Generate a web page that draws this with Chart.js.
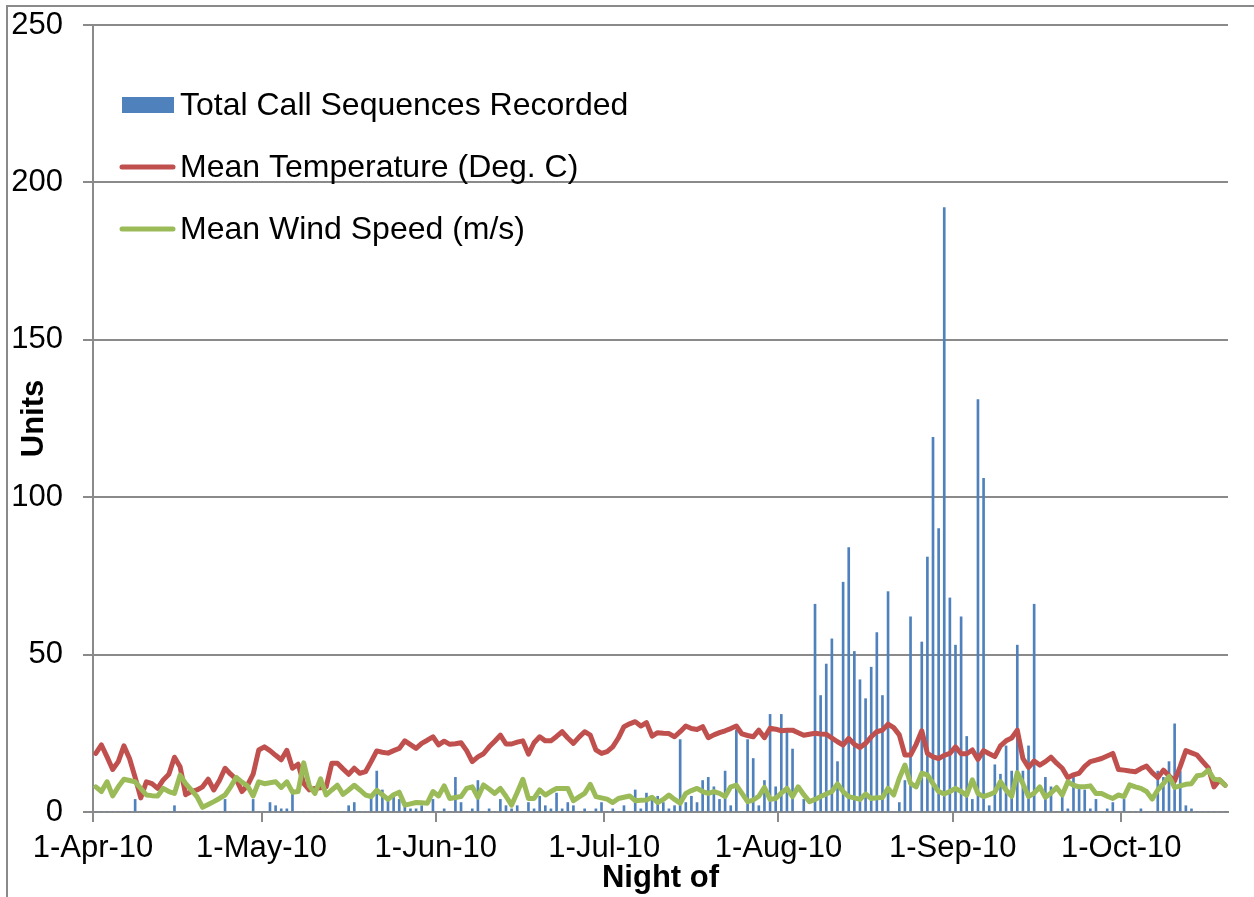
<!DOCTYPE html>
<html lang="en">
<head>
    <meta charset="UTF-8">
    <title>Call Sequences, Temperature and Wind Speed</title>
    <script src="https://cdn.jsdelivr.net/npm/chart.js"></script>
    <style>
        body { margin: 0; background: #fff; }
        canvas { display: block; }
    </style>
</head>
<body>
    <canvas id="nightChart" width="1254" height="897"></canvas>

    <script>
        // one value per night, 1-Apr-10 .. 20-Oct-10
        const firstNight = new Date(2010, 3, 1);
        const nightCount = 202;
        const monthTicks = ['1-Apr-10', '1-May-10', '1-Jun-10', '1-Jul-10', '1-Aug-10', '1-Sep-10', '1-Oct-10'];
        const yTicks = [0, 50, 100, 150, 200, 250];

        const callSequences = [
            0, 0, 0, 0, 0, 0, 0, 4, 0, 0,
            0, 0, 0, 0, 2, 0, 0, 0, 0, 0,
            0, 0, 0, 4, 0, 0, 0, 0, 4, 0,
            0, 3, 2, 1, 1, 6, 0, 0, 0, 0,
            0, 0, 0, 0, 0, 2, 3, 0, 0, 5,
            13, 7, 4, 5, 4, 3, 1, 1, 2, 0,
            4, 0, 1, 0, 11, 3, 0, 1, 10, 0,
            1, 0, 4, 2, 1, 2, 0, 3, 1, 5,
            2, 1, 6, 1, 3, 2, 0, 1, 0, 1,
            3, 0, 1, 0, 2, 0, 7, 1, 6, 5,
            5, 3, 1, 2, 23, 3, 5, 3, 10, 11,
            8, 4, 13, 2, 26, 0, 23, 17, 2, 10,
            31, 8, 31, 26, 20, 0, 4, 0, 66, 37,
            47, 55, 16, 73, 84, 51, 42, 36, 46, 57,
            37, 70, 0, 3, 10, 62, 0, 54, 81, 119,
            90, 192, 68, 53, 62, 24, 4, 131, 106, 2,
            15, 12, 21, 13, 53, 13, 21, 66, 0, 11,
            8, 0, 5, 1, 11, 8, 7, 1, 4, 0,
            1, 3, 0, 4, 0, 0, 1, 0, 0, 13,
            11, 16, 28, 13, 2, 1, 0, 0, 0, 0,
            0, 0
        ];

        const meanTemperature = [
            18.6, 21.3, 17.5, 13.5, 16, 21, 17, 11, 4.5, 9.6,
            9, 7.5, 10.2, 12, 17.4, 14.4, 5.5, 6.5, 7, 8,
            10.4, 7, 10, 13.9, 12, 10.4, 6.5, 8.5, 12, 19.7,
            20.7, 19.5, 18, 16.6, 19.6, 13.9, 15.2, 9.1, 7, 7.5,
            7.7, 8, 15.5, 15.5, 13.7, 12, 13.9, 12.3, 12.8, 16,
            19.4, 19, 18.7, 19.5, 20.2, 22.6, 21.4, 20.2, 21.8, 22.8,
            23.9, 21.3, 22.5, 21.5, 21.7, 22, 19.5, 16, 17.5, 18.5,
            20.7, 22.5, 24.4, 21.6, 21.6, 22.2, 22.6, 18.4, 22, 23.9,
            22.6, 22.6, 24, 25.5, 23.5, 21.8, 23.8, 25.5, 24.4, 19.7,
            18.6, 19.2, 20.7, 23.5, 27.1, 28, 28.7, 27.3, 28.4, 24.1,
            25.2, 25, 24.9, 23.9, 25.5, 27.3, 26.5, 26.2, 27.1, 23.6,
            24.5, 25.2, 25.8, 26.5, 27.3, 24.8, 24.3, 23.9, 26, 23.6,
            26.6, 26.3, 25.8, 26, 26, 25.2, 24.4, 24.7, 25, 24.8,
            24.7, 23.5, 22.3, 21.3, 23.4, 21.5, 20.5, 21.8, 23.9, 25.5,
            26, 27.9, 26.8, 24.5, 18.1, 18.1, 21.5, 25.8, 18.6, 17.5,
            17, 18, 18.6, 20.7, 18.5, 18.5, 19.7, 16.7, 19.5, 18.5,
            17.6, 21, 22.6, 23.5, 26, 17, 14.2, 16.2, 14.9, 16,
            17.4, 15.5, 13.9, 10.9, 11.8, 12.3, 14.5, 16, 16.5, 17,
            17.8, 18.6, 13.5, 13.3, 13, 12.8, 13.8, 14.6, 12.5, 10.9,
            13.3, 11.5, 9.9, 14.5, 19.5, 18.8, 18.1, 16, 14, 8,
            10.2, 8.5
        ];

        const meanWindSpeed = [
            8, 6.5, 9.6, 5.1, 8, 10.4, 10, 9.6, 7.5, 5.4,
            5.2, 5.1, 7.5, 6.5, 5.9, 11.7, 9, 7, 4.9, 1.5,
            2.4, 3.3, 4.3, 5.4, 8, 11, 9.5, 8.3, 5.1, 9.6,
            9, 9.3, 9.6, 7.8, 9.6, 6.3, 6.5, 15.6, 8.3, 5.9,
            10.5, 5.4, 7, 8.5, 5.6, 7, 8.5, 7, 5.4, 4.9,
            6.9, 5.5, 4, 5.5, 6.3, 2.2, 2.6, 3, 2.9, 2.8,
            6.5, 5.1, 8.3, 4.3, 4.6, 4.9, 7.5, 8, 4.7, 8.6,
            7.3, 5.9, 7.5, 5, 2.2, 6.2, 10.4, 4.3, 4.3, 7,
            5.4, 6.5, 7.5, 7.5, 7.5, 3.6, 4.8, 5.9, 8.8, 4.9,
            4.5, 4.1, 3, 4.3, 4.7, 5.1, 3.6, 3.7, 3.8, 4.7,
            3, 4, 5.4, 4, 2.8, 5.9, 6.8, 7.5, 6.5, 5.9,
            6.5, 5.9, 4.9, 8, 8.5, 5.9, 3.3, 3.8, 5, 7.8,
            4, 4.3, 6, 7.5, 4.9, 8, 5.5, 3.3, 4, 4.9,
            5.7, 6.5, 8.9, 6.5, 4.9, 4.5, 4, 5.7, 4.3, 4.5,
            4.6, 7.5, 5.4, 10.7, 14.9, 9.1, 8, 12.3, 11.8, 9,
            6.5, 5.7, 6.5, 7.5, 6.5, 5.4, 10.2, 5.9, 4.9, 5.5,
            6.3, 9.6, 7, 5, 12.5, 9, 4.9, 6, 8, 4.7,
            6, 7.8, 5.4, 9.6, 8.5, 8, 8, 8.3, 5.9, 5.9,
            5, 4.3, 5.4, 4.9, 8.6, 8, 7.5, 6.5, 4.1, 7,
            9, 11.3, 7.8, 8.3, 8.8, 9, 11.5, 11.8, 13.3, 10.4,
            10.2, 8.5
        ];

        const monthNames = ['Jan', 'Feb', 'Mar', 'Apr', 'May', 'Jun', 'Jul', 'Aug', 'Sep', 'Oct', 'Nov', 'Dec'];
        const nights = [];
        for (let i = 0; i < nightCount; i++) {
            const d = new Date(firstNight.getFullYear(), firstNight.getMonth(), firstNight.getDate() + i);
            nights.push(d.getDate() + '-' + monthNames[d.getMonth()] + '-' + String(d.getFullYear()).slice(2));
        }

        const axisGrey = '#8a8a8a';
        const fontFamily = '"Liberation Sans", Arial, sans-serif';
        Chart.defaults.font.family = fontFamily;
        Chart.defaults.color = '#000';

        // chart frame (Excel chart area border)
        const framePlugin = {
            id: 'frame',
            beforeDraw(chart) {
                const ctx = chart.ctx;
                ctx.save();
                ctx.strokeStyle = axisGrey;
                ctx.lineWidth = 2;
                ctx.beginPath();
                ctx.moveTo(7, chart.height + 5);
                ctx.lineTo(7, 6);
                ctx.lineTo(chart.width + 5, 6);
                ctx.stroke();
                ctx.restore();
            }
        };

        // legend drawn inside the plot, top left, one entry per row
        const insideLegend = {
            id: 'insideLegend',
            afterDraw(chart) {
                const ctx = chart.ctx;
                ctx.save();
                ctx.font = '32px ' + fontFamily;
                ctx.textBaseline = 'middle';
                ctx.fillStyle = '#000';
                chart.data.datasets.forEach((ds, i) => {
                    const y = 105 + i * 62;
                    if (ds.type === 'line') {
                        ctx.strokeStyle = ds.borderColor;
                        ctx.lineWidth = 5;
                        ctx.lineCap = 'round';
                        ctx.beginPath();
                        ctx.moveTo(122, y);
                        ctx.lineTo(173, y);
                        ctx.stroke();
                    } else {
                        ctx.fillStyle = ds.backgroundColor;
                        ctx.fillRect(122, y - 8, 52, 16);
                    }
                    ctx.fillStyle = '#000';
                    ctx.fillText(ds.label, 180, y + 1);
                });
                ctx.restore();
            }
        };

        new Chart(document.getElementById('nightChart'), {
            type: 'bar',
            data: {
                labels: nights,
                datasets: [
                    {
                        type: 'bar',
                        label: 'Total Call Sequences Recorded',
                        data: callSequences,
                        backgroundColor: '#4F81BD',
                        barThickness: 2,
                        order: 3
                    },
                    {
                        type: 'line',
                        label: 'Mean Temperature (Deg. C)',
                        data: meanTemperature,
                        borderColor: '#C0504D',
                        borderWidth: 5,
                        pointRadius: 0,
                        tension: 0,
                        borderJoinStyle: 'round',
                        borderCapStyle: 'round',
                        order: 2
                    },
                    {
                        type: 'line',
                        label: 'Mean Wind Speed (m/s)',
                        data: meanWindSpeed,
                        borderColor: '#9BBB59',
                        borderWidth: 5,
                        pointRadius: 0,
                        tension: 0,
                        borderJoinStyle: 'round',
                        borderCapStyle: 'round',
                        order: 1
                    }
                ]
            },
            options: {
                responsive: false,
                devicePixelRatio: 1,
                animation: false,
                events: [],
                layout: { padding: { left: 10, right: 26, top: 25, bottom: 0 } },
                plugins: {
                    legend: { display: false },
                    tooltip: { enabled: false }
                },
                scales: {
                    x: {
                        offset: true,
                        afterFit: s => { s.height = 85; },
                        grid: {
                            offset: true,
                            drawOnChartArea: false,
                            tickLength: 10,
                            lineWidth: 2,
                            color: c => monthTicks.includes(nights[c.index]) ? axisGrey : 'rgba(0,0,0,0)'
                        },
                        border: { color: axisGrey, width: 2 },
                        ticks: {
                            autoSkip: false,
                            maxRotation: 0,
                            minRotation: 0,
                            padding: 8,
                            labelOffset: -2.8,
                            font: { size: 31 },
                            callback: (v, i) => monthTicks.includes(nights[i]) ? nights[i] : ''
                        },
                        title: {
                            display: true,
                            text: 'Night of',
                            font: { size: 31, weight: 'bold' },
                            padding: { top: 0, bottom: 0 }
                        }
                    },
                    y: {
                        min: yTicks[0],
                        max: yTicks[yTicks.length - 1],
                        afterFit: s => {
                            s.width = 83;
                            s.paddingTop = 0;
                            s.paddingBottom = 0;
                        },
                        afterBuildTicks: s => { s.ticks = yTicks.map(v => ({ value: v })); },
                        grid: {
                            color: axisGrey,
                            lineWidth: 2,
                            tickLength: 10
                        },
                        border: { color: axisGrey, width: 2 },
                        ticks: {
                            padding: 20,
                            font: { size: 31 }
                        },
                        title: {
                            display: true,
                            text: 'Units',
                            font: { size: 31, weight: 'bold' },
                            padding: { top: 6, bottom: 0 }
                        }
                    }
                }
            },
            plugins: [framePlugin, insideLegend]
        });
    </script>
</body>
</html>
